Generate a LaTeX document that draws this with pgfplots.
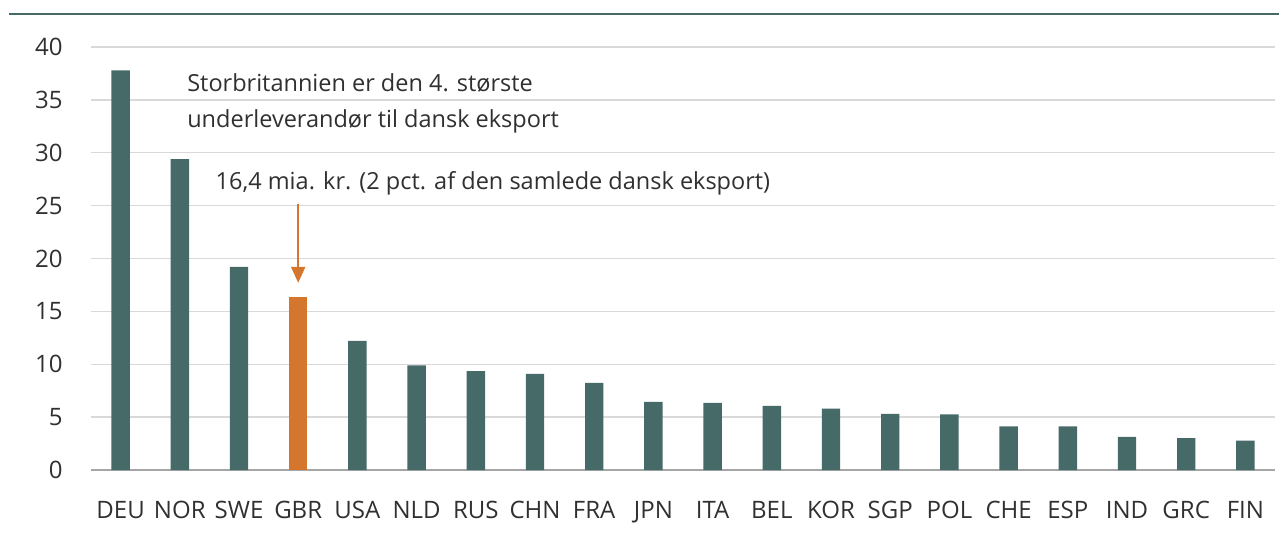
\documentclass[border=0pt]{standalone}
\usepackage{pgfplots}
\pgfplotsset{compat=1.18}
\usetikzlibrary{arrows.meta}
\usepackage{fontspec}
\setmainfont{Open Sans}
\definecolor{barteal}{HTML}{466A68}
\definecolor{barorange}{HTML}{D5762F}
\definecolor{gridgray}{HTML}{D9D9D9}
\definecolor{axisgray}{HTML}{A6A6A6}
\definecolor{txt}{HTML}{303030}
\begin{document}
\begin{tikzpicture}
\useasboundingbox (0,0) rectangle (639.5pt,268pt);
\draw[barteal, line width=1.1pt] (4.5pt,261pt) -- (639.5pt,261pt);
\begin{axis}[
  at={(45.5pt,33pt)}, anchor=south west,
  width=592pt, height=211.5pt, scale only axis,
  xmin=-0.5, xmax=19.5, ymin=0, ymax=40,
  axis x line*=bottom, axis y line*=left,
  y axis line style={draw=none},
  x axis line style={axisgray, line width=0.75pt},
  ytick={0,5,...,40}, ymajorgrids, grid style={gridgray, line width=0.75pt},
  xtick={0,...,19},
  xticklabels={DEU,NOR,SWE,GBR,USA,NLD,RUS,CHN,FRA,JPN,ITA,BEL,KOR,SGP,POL,CHE,ESP,IND,GRC,FIN},
  major tick length=0pt,
  tick label style={font=\fontsize{12}{14}\selectfont, text=txt},
  yticklabel style={anchor=east, inner sep=0pt, xshift=-14pt},
  xticklabel style={anchor=north, inner sep=0pt, yshift=-15.5pt},
  /pgf/number format/assume math mode=true,
  ybar, bar width=9.2pt, bar shift=0pt,
]
\addplot[fill=barteal, draw=none] coordinates {
(0,37.8) (1,29.4) (2,19.2) (4,12.2) (5,9.9) (6,9.35) (7,9.1) (8,8.25)
(9,6.45) (10,6.35) (11,6.07) (12,5.8) (13,5.3) (14,5.25) (15,4.12)
(16,4.12) (17,3.14) (18,3.02) (19,2.77)};
\addplot[fill=barorange, draw=none] coordinates {(3,16.4)};
\draw[barorange, line width=1pt, -{Triangle[width=7pt,length=8pt]}] (axis cs:3,25.2) -- (axis cs:3,17.7);
\node[anchor=base west, inner sep=0pt, text=txt, font=\fontsize{11.75}{14}\selectfont] at (axis cs:1.12,35.8) {Storbritannien er den 4. største};
\node[anchor=base west, inner sep=0pt, text=txt, font=\fontsize{11.75}{14}\selectfont] at (axis cs:1.12,32.4) {underleverandør til dansk eksport};
\node[anchor=base west, inner sep=0pt, text=txt, font=\fontsize{11.75}{14}\selectfont] at (axis cs:1.60,26.5) {16,4 mia. kr. (2 pct. af den samlede dansk eksport)};
\end{axis}
\end{tikzpicture}
\end{document}
